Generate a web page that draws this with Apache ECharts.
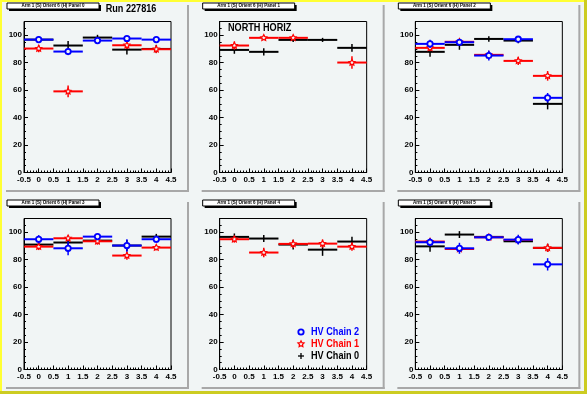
<!DOCTYPE html>
<html><head><meta charset="utf-8">
<script src="https://cdn.jsdelivr.net/npm/echarts@6/dist/echarts.min.js"></script>
<style>html,body{margin:0;padding:0;background:#f1f5f5}#c{width:587px;height:394px}</style>
</head><body><div id="c"></div><script>
// ---- data ----
const binCenters = [0, 1, 2, 3, 4];
const xTickLabels = ['-0.5','0','0.5','1','1.5','2','2.5','3','3.5','4','4.5'];
const yTickLabels = ['0','20','40','60','80','100'];
const panelTitles = [
  'Arm 1 (S) Orient 6 (H) Panel 0','Arm 1 (S) Orient 6 (H) Panel 1','Arm 1 (S) Orient 6 (H) Panel 2',
  'Arm 1 (S) Orient 6 (H) Panel 3','Arm 1 (S) Orient 6 (H) Panel 4','Arm 1 (S) Orient 6 (H) Panel 5'];
const legendNames = ['HV Chain 2','HV Chain 1','HV Chain 0'];
const runLabel = 'Run 227816';
const regionLabel = 'NORTH HORIZ';

// HV Chain 2 (blue open circles)
const chain2Vals = [
  [96.8, 88.1, 96.1, 97.6, 96.8],
  [null, null, null, null, null],
  [93.7, 94.9, 85.2, 97.1, 54.4],
  [94.9, 88.3, 96.8, 90.3, 94.9],
  [null, null, null, null, null],
  [92.7, 88.3, 96.3, 94.6, 76.6]];
const chain2Errs = [
  [2.4, 2.0, 2.0, 1.5, 1.5],
  [0, 0, 0, 0, 0],
  [3.0, 2.0, 3.6, 1.5, 3.5],
  [3.0, 5.0, 2.0, 4.5, 2.5],
  [0, 0, 0, 0, 0],
  [3.0, 4.0, 2.0, 3.5, 4.5]];
// HV Chain 1 (red open stars)
const chain1Vals = [
  [90.3, 59.1, null, 92.7, 89.8],
  [92.5, 98.1, 98.1, null, 80.1],
  [90.8, 95.2, 85.7, 81.3, 70.4],
  [89.5, 95.6, 93.4, 83.0, 88.8],
  [94.9, 85.2, 91.5, 91.7, 89.5],
  [93.2, 87.8, 96.3, 94.4, 88.6]];
const chain1Errs = [
  [2.7, 4.2, 0, 2.7, 2.8],
  [3.0, 1.5, 1.5, 0, 4.5],
  [2.5, 2.0, 2.5, 3.0, 3.5],
  [2.5, 2.0, 2.5, 3.0, 2.0],
  [2.5, 3.5, 3.0, 3.0, 3.0],
  [2.0, 2.0, 2.0, 2.0, 3.0]];
// HV Chain 0 (black crosses)
const chain0Vals = [
  [96.8, 92.5, 98.3, 89.5, 90.0],
  [89.3, 87.9, 96.6, 96.6, 90.8],
  [87.9, 93.0, 97.3, 96.1, 50.0],
  [91.0, 92.5, 93.9, 90.3, 96.8],
  [96.6, 95.4, 91.0, 87.3, 93.2],
  [89.7, 98.3, 96.6, 93.4, 88.6]];
const chain0Errs = [
  [2.2, 3.3, 2.0, 3.6, 3.0],
  [2.8, 2.6, 1.5, 1.5, 2.8],
  [3.6, 3.6, 2.0, 2.0, 4.0],
  [2.5, 2.5, 2.0, 4.0, 2.0],
  [2.5, 2.5, 3.5, 4.5, 3.5],
  [4.0, 2.5, 2.0, 2.0, 3.0]];

// ---- drawing ----
const BG = '#f1f5f5';
const FONT = '"Liberation Sans", Arial, Helvetica, sans-serif';
const padW = 587 / 3, padH = 197;
function padPos(i){ return {x: (i % 3) * padW, y: Math.floor(i / 3) * padH}; }
function starPts(cx, cy, r){
  const pts = [];
  for (let k = 0; k < 10; k++) {
    const a = -Math.PI/2 + k * Math.PI/5;
    const rr = (k % 2 === 0) ? r : r * 0.5;
    pts.push([cx + rr*Math.cos(a), cy + rr*Math.sin(a)]);
  }
  return pts;
}
function markerEl(kind, cx, cy, color){
  if (kind === 'circle') return {type:'circle', shape:{cx, cy, r:2.7}, style:{stroke:color, lineWidth:1.8, fill:BG}};
  if (kind === 'star') return {type:'polygon', shape:{points: starPts(cx, cy, 3.2)}, style:{stroke:color, lineWidth:1.2, fill:BG}};
  return null;
}
function makeRender(color, kind){
  return function(params, api){
    const x = api.value(0), y = api.value(1), e = api.value(2);
    const L = api.coord([x-0.5, y]), R = api.coord([x+0.5, y]);
    const T = api.coord([x, y+e]), B = api.coord([x, y-e]), C = api.coord([x, y]);
    const children = [
      {type:'line', shape:{x1:L[0], y1:L[1], x2:R[0], y2:R[1]}, style:{stroke:color, lineWidth:2}},
      {type:'line', shape:{x1:T[0], y1:T[1], x2:B[0], y2:B[1]}, style:{stroke:color, lineWidth:1.5}}
    ];
    const m = markerEl(kind, C[0], C[1], color);
    if (m) children.push(m);
    return {type:'group', children};
  };
}
const chains = [
  {vals: chain0Vals, errs: chain0Errs, color:'#000000', kind:'plus'},
  {vals: chain1Vals, errs: chain1Errs, color:'#ff0000', kind:'star'},
  {vals: chain2Vals, errs: chain2Errs, color:'#0000ff', kind:'circle'}
];
const grids = [], xAxes = [], yAxes = [], series = [], graphics = [];
// canvas border stripes
graphics.push({type:'rect', shape:{x:0,y:0,width:587,height:2}, style:{fill:'#ffff33'}, z:1});
graphics.push({type:'rect', shape:{x:0,y:0,width:2,height:394}, style:{fill:'#ffff33'}, z:1});
graphics.push({type:'rect', shape:{x:0,y:391,width:587,height:3}, style:{fill:'#cccc22'}, z:1});
graphics.push({type:'rect', shape:{x:584,y:0,width:3,height:394}, style:{fill:'#cccc22'}, z:1});

for (let i = 0; i < 6; i++) {
  const p = padPos(i);
  // pad shadows
  graphics.push({type:'rect', shape:{x:p.x+187, y:p.y+5, width:2, height:187}, style:{fill:'#a8a8a8'}, z:1});
  graphics.push({type:'rect', shape:{x:p.x+6, y:p.y+190, width:183, height:2}, style:{fill:'#a8a8a8'}, z:1});
  // title box
  graphics.push({type:'rect', shape:{x:p.x+9, y:p.y+5, width:92, height:6}, style:{fill:'#000'}, z:2});
  graphics.push({type:'rect', shape:{x:p.x+7, y:p.y+3, width:92, height:6}, style:{fill:'#ffffff', stroke:'#000', lineWidth:1}, z:3});
  graphics.push({type:'text', x:p.x+53, y:p.y+6.2, style:{text:panelTitles[i], font:'bold 4.5px '+FONT, fill:'#000', align:'center', verticalAlign:'middle'}, z:4});

  grids.push({left:p.x+24, top:p.y+21.5, width:147, height:151, show:true, borderColor:'#000', borderWidth:1, backgroundColor:'transparent'});
  xAxes.push({gridIndex:i, type:'value', min:-0.5, max:4.5, interval:0.5,
    axisLine:{show:true, onZero:false, lineStyle:{color:'#000', width:1}},
    axisTick:{show:true, inside:true, length:4, lineStyle:{color:'#000', width:1}},
    minorTick:{show:true, splitNumber:5, length:2, lineStyle:{color:'#000', width:1}},
    splitLine:{show:false},
    axisLabel:{fontSize:8, fontWeight:'bold', color:'#000', fontFamily:FONT, margin:3,
      formatter: function(v){ const idx = Math.round((v + 0.5) / 0.5); return xTickLabels[idx] || ''; }}
  });
  yAxes.push({gridIndex:i, type:'value', min:0, max:110, interval:20,
    axisLine:{show:true, onZero:false, lineStyle:{color:'#000', width:1}},
    axisTick:{show:true, inside:true, length:4, lineStyle:{color:'#000', width:1}},
    minorTick:{show:true, splitNumber:4, length:2, lineStyle:{color:'#000', width:1}},
    splitLine:{show:false},
    axisLabel:{fontSize:8, fontWeight:'bold', color:'#000', fontFamily:FONT, margin:2, showMaxLabel:false,
      formatter: function(v){ const idx = Math.round(v / 20); return (v % 20 === 0 && yTickLabels[idx]) ? yTickLabels[idx] : ''; }}
  });
  chains.forEach(function(ch){
    const data = [];
    binCenters.forEach(function(xc, k){
      const v = ch.vals[i][k];
      if (v !== null) data.push([xc, v, ch.errs[i][k]]);
    });
    if (data.length) series.push({type:'custom', xAxisIndex:i, yAxisIndex:i, data, encode:{x:0, y:1},
      renderItem: makeRender(ch.color, ch.kind), z:5, clip:false});
  });
}
// texts (horizontally condensed to match the narrow bold face of the original)
const SX = 0.83;
graphics.push({type:'text', x:131, y:9, scaleX:SX, style:{text:runLabel, font:'bold 11px '+FONT, fill:'#000', align:'center', verticalAlign:'middle'}, z:4});
graphics.push({type:'text', x:228, y:28, scaleX:SX, style:{text:regionLabel, font:'bold 11px '+FONT, fill:'#000', align:'left', verticalAlign:'middle'}, z:4});
// legend
const legColors = ['#0000ff','#ff0000','#000000'];
const legKinds = ['circle','star','plus'];
const legY = [332, 344, 356];
for (let k = 0; k < 3; k++) {
  const m = markerEl(legKinds[k], 301, legY[k], legColors[k]);
  if (m) { m.z = 4; graphics.push(m); }
  else {
    graphics.push({type:'line', shape:{x1:298, y1:legY[k], x2:304, y2:legY[k]}, style:{stroke:'#000', lineWidth:1.3}, z:4});
    graphics.push({type:'line', shape:{x1:301, y1:legY[k]-3, x2:301, y2:legY[k]+3}, style:{stroke:'#000', lineWidth:1.3}, z:4});
  }
  graphics.push({type:'text', x:311, y:legY[k], scaleX:SX, style:{text:legendNames[k], font:'bold 11px '+FONT, fill:legColors[k], align:'left', verticalAlign:'middle'}, z:4});
}

const chart = echarts.init(document.getElementById('c'), null, {renderer:'canvas'});
chart.setOption({
  animation:false,
  backgroundColor: BG,
  grid: grids, xAxis: xAxes, yAxis: yAxes, series: series, graphic: graphics
});
</script></body></html>
